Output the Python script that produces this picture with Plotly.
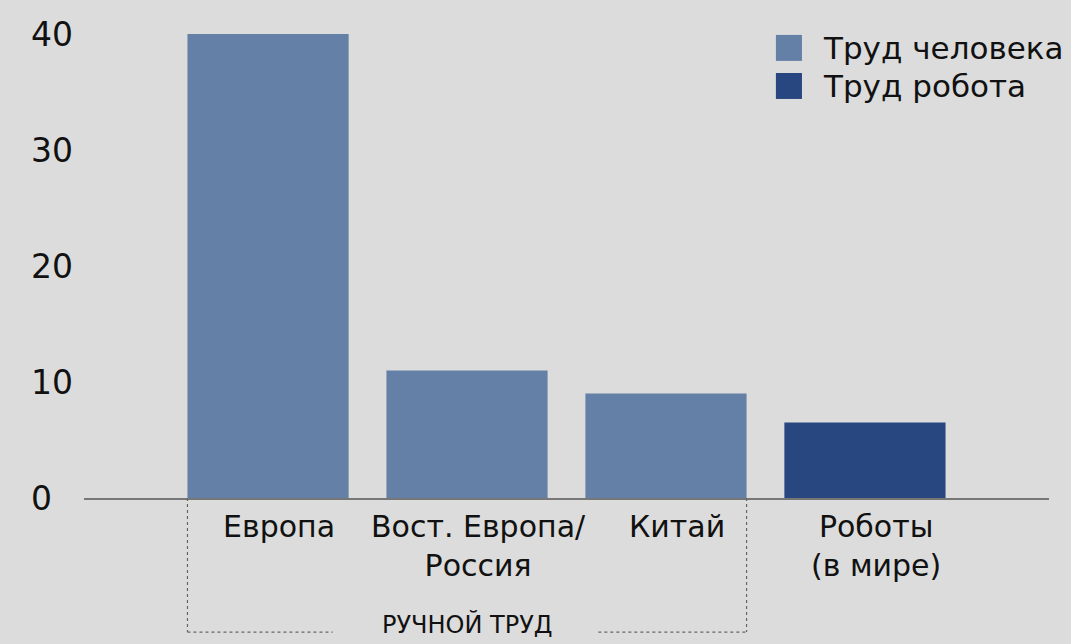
import plotly.graph_objects as go

categories = ["Европа", "Вост. Европа/<br>Россия", "Китай", "Роботы<br>(в мире)"]
values = [40, 11, 9, 6.5]
series_names = ["Труд человека", "Труд робота"]
bar_series = [0, 0, 0, 1]
colors = ["#6480a6", "#28467f"]
y_ticks = [0, 10, 20, 30, 40]
group_label = "РУЧНОЙ ТРУД"

FONT = "DejaVu Sans"
BG = "#dcdcdc"

fig = go.Figure()
for s, name in enumerate(series_names):
    xs = [c for c, k in zip(categories, bar_series) if k == s]
    ys = [v for v, k in zip(values, bar_series) if k == s]
    fig.add_trace(go.Bar(x=xs, y=ys, name=name, marker=dict(color=colors[s], line=dict(width=0)),
                         width=0.81, showlegend=False, hoverinfo="skip"))

ann = []
# category labels
for i, c in enumerate(categories):
    ann.append(dict(x=i, y=0, xref="x", yref="y", text=c, showarrow=False,
                    xanchor="center", yanchor="top", yshift=-9, xshift=11,
                    font=dict(family=FONT, size=30, color="#111")))
# y tick labels, left aligned
for t in y_ticks:
    ann.append(dict(x=-0.057, y=t, xref="paper", yref="y", text=str(t), showarrow=False,
                    xanchor="left", yanchor="middle", font=dict(family=FONT, size=33, color="#111")))
# group label
ann.append(dict(x=1, y=-0.272, xref="x", yref="paper", text=group_label, showarrow=False,
                xanchor="center", yanchor="middle",
                font=dict(family=FONT, size=24, color="#111")))
# manual legend
leg_y = [0.97, 0.888]
shapes = []
for s, name in enumerate(series_names):
    yc = leg_y[s]
    shapes.append(dict(type="rect", xref="paper", yref="paper", x0=0.717, x1=0.744,
                       y0=yc - 0.028, y1=yc + 0.028, fillcolor=colors[s], line=dict(width=0)))
    ann.append(dict(x=0.7637, y=yc, xref="paper", yref="paper", text=name, showarrow=False,
                    xanchor="left", yanchor="middle", font=dict(family=FONT, size=31, color="#111")))

# dashed bracket
dash = dict(color="#666", width=1.2, dash="3px,3px")
shapes += [
    dict(type="line", xref="x", yref="paper", x0=-0.405, x1=-0.405, y0=0, y1=-0.289, line=dash),
    dict(type="line", xref="x", yref="paper", x0=2.405, x1=2.405, y0=0, y1=-0.289, line=dash),
    dict(type="line", xref="x", yref="paper", x0=-0.405, x1=0.325, y0=-0.289, y1=-0.289, line=dash),
    dict(type="line", xref="x", yref="paper", x0=1.66, x1=2.405, y0=-0.289, y1=-0.289, line=dash),
]

fig.update_layout(
    width=1071, height=644,
    margin=dict(l=84, r=22, t=34, b=146),
    paper_bgcolor=BG, plot_bgcolor=BG,
    annotations=ann, shapes=shapes,
    xaxis=dict(range=[-0.925, 3.925], showticklabels=False, showgrid=False, zeroline=False,
               showline=True, linecolor="#777", linewidth=2, ticks=""),
    yaxis=dict(range=[0, 40], showticklabels=False, showgrid=False, zeroline=False,
               showline=False, tickvals=y_ticks),
    showlegend=False,
)

fig.write_html("out.html", config={"displayModeBar": False},
               post_script="document.body.style.margin='0';document.body.style.background='#dcdcdc';")
